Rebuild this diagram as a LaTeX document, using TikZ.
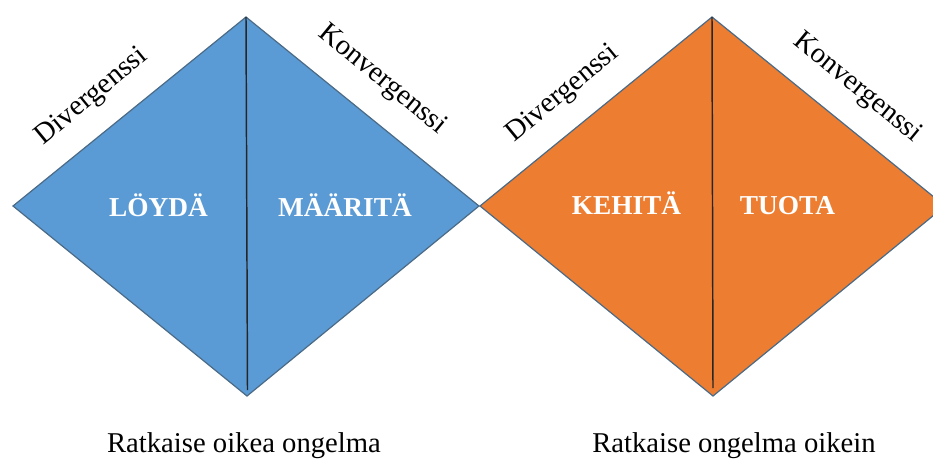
\documentclass[tikz,border=0pt]{standalone}
\usepackage{fontspec}
\setmainfont{Liberation Serif}
\usetikzlibrary{positioning}
\definecolor{findblue}{HTML}{5B9BD5}
\definecolor{makeorange}{HTML}{ED7D31}
\definecolor{rimgray}{HTML}{4A6A86}
\tikzset{
    face/.style={draw=rimgray, line width=0.9pt, line join=miter},
    divider/.style={draw=black!85, line width=1.1pt},
    phase/.style={text=white, anchor=base, inner sep=0pt, font=\fontsize{20.5}{24}\selectfont\bfseries},
    side/.style={inner sep=0pt, font=\fontsize{21.5}{25}\selectfont},
    caption/.style={inner sep=0pt, font=\fontsize{21.5}{25}\selectfont}
}

\begin{document}
\begin{tikzpicture}[x=0.75pt, y=-0.75pt]
    \useasboundingbox (0,0) rectangle (933,462);
    \clip (0,0) rectangle (933,462);

    % Corners
    \coordinate (bL) at (13,206);
    \coordinate (bT) at (246,17);
    \coordinate (bR) at (479,206);
    \coordinate (bB) at (247,396);
    \coordinate (bE) at (247.5,390);
    \coordinate (oL) at (480,206);
    \coordinate (oT) at (712,17);
    \coordinate (oR) at (945,206);
    \coordinate (oB) at (713,396);
    \coordinate (oE) at (713,388);

    % Diamonds
    \draw[face, fill=findblue] (bL) -- (bT) -- (bR) -- (bB) -- cycle;
    \draw[face, fill=makeorange] (oL) -- (oT) -- (oR) -- (oB) -- cycle;
    \draw[divider] (bT) -- (bE);
    \draw[divider] (oT) -- (oE);

    % Phases
    \node[phase] (find) at (158.5,216) {LÖYDÄ};
    \node[phase] (define) at (345,216) {MÄÄRITÄ};
    \node[phase] (develop) at (626.5,214) {KEHITÄ};
    \node[phase] (deliver) at (787.5,214) {TUOTA};

    % Side labels
    \node[side, rotate=39.4] (bdiv) at (92,97) {Divergenssi};
    \node[side, rotate=-39.4] (bcon) at (382,80) {Konvergenssi};
    \node[side, rotate=39.4] (odiv) at (563,94) {Divergenssi};
    \node[side, rotate=-39.4] (ocon) at (857,88) {Konvergenssi};

    % Captions
    \node[caption] (rightproblem) at (244,446) {Ratkaise oikea ongelma};
    \node[caption] (problemright) at (734,446) {Ratkaise ongelma oikein};
\end{tikzpicture}
\end{document}
